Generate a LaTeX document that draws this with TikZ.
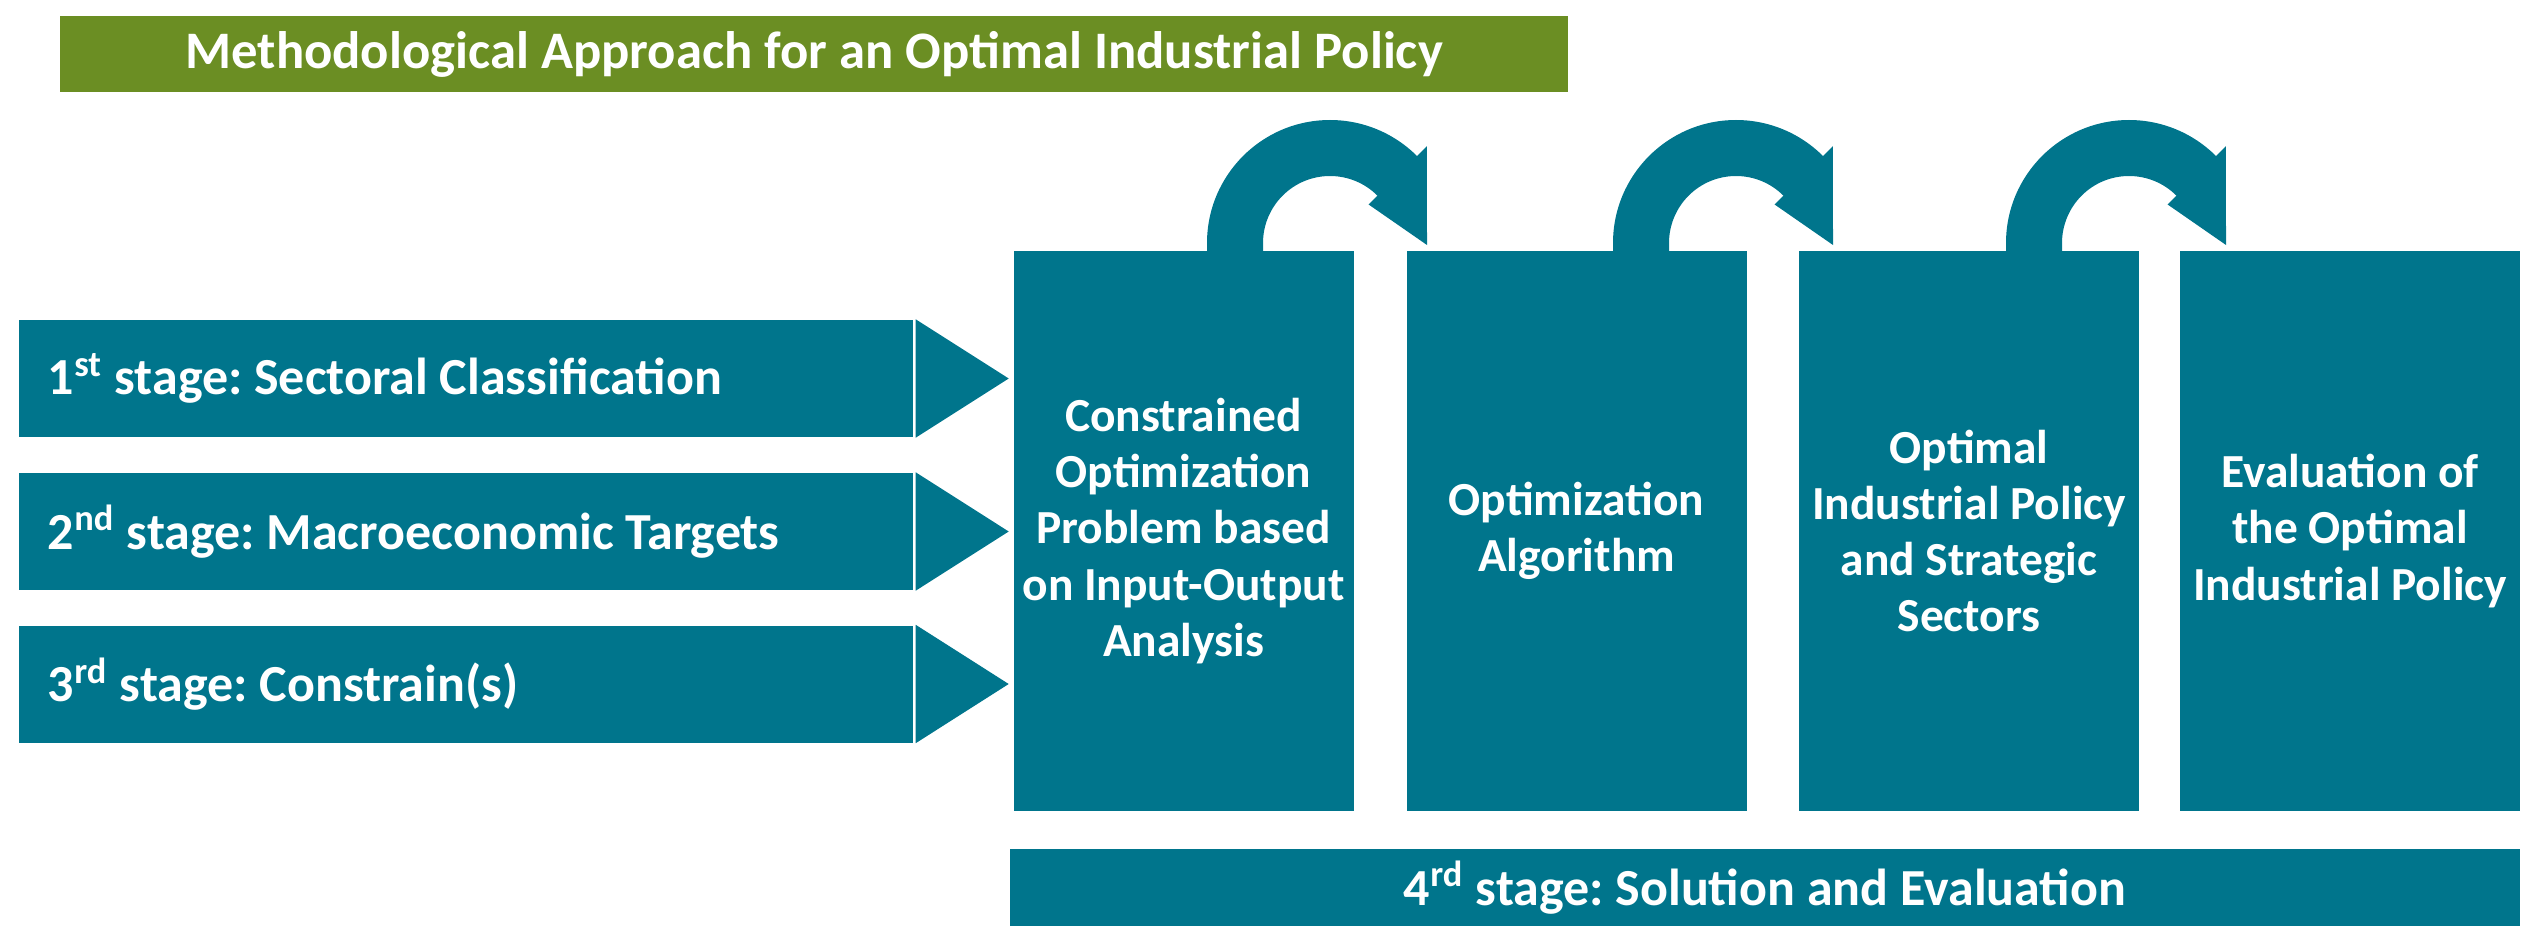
\documentclass[tikz,border=0pt]{standalone}
\usepackage{fontspec}
\setmainfont{Carlito}
\frenchspacing
\definecolor{stageteal}{HTML}{00758C}
\definecolor{titlegreen}{HTML}{6B8E23}
\tikzset{%
    stagebox/.style={%
        fill=stageteal, draw=none, text=white,
        font=\bfseries\fontsize{14.8}{17}\selectfont,
        minimum width=8.94cm, minimum height=1.17cm,
        text width=8.36cm, inner xsep=0.29cm, inner ysep=0pt, align=flush left
    },
    stepblock/.style={%
        fill=stageteal, draw=none, text=white,
        font=\bfseries\fontsize{13.5}{16}\selectfont,
        minimum width=3.40cm, minimum height=5.60cm, inner sep=0pt, align=center
    },
    looparrow/.pic={%
        \fill[stageteal] (-1.23,-0.10) -- (-1.23,0) arc[start angle=180, end angle=45, radius=1.23]
            -- (45:1.37) -- (0.97,-0.02) -- (45:0.545) -- (45:0.67)
            arc[start angle=45, end angle=180, radius=0.67] -- (-0.67,-0.10) -- cycle;
    }
}

\begin{document}
\begin{tikzpicture}
%\draw [help lines] (0,0) grid (25,9);
\useasboundingbox (0,0) rectangle (25.34,9.46);

\node (T) at (8.14,8.92) [fill=titlegreen, text=white, minimum width=15.08cm, minimum height=0.76cm,
    inner sep=0pt, font=\bfseries\fontsize{15}{18}\selectfont] {Methodological Approach for an Optimal Industrial Policy};

\node[stagebox] (S1) at (4.66,5.675) {1\textsuperscript{st} stage: Sectoral Classification};
\node[stagebox] (S2) at (4.66,4.145) {2\textsuperscript{nd} stage: Macroeconomic Targets};
\node[stagebox] (S3) at (4.66,2.62) {3\textsuperscript{rd} stage: Constrain(s)};

\node[stepblock] (P1) at (11.835,4.15) {Constrained\\Optimization\\Problem based\\on Input-Output\\Analysis};
\node[stepblock] (P2) at (15.765,4.15) {Optimization\\Algorithm};
\node[stepblock] (P3) at (19.69,4.15) {Optimal\\Industrial Policy\\and Strategic\\Sectors};
\node[stepblock] (P4) at (23.50,4.15) {Evaluation of\\the Optimal\\Industrial Policy};

\node (B) at (17.65,0.585) [fill=stageteal, text=white, minimum width=15.10cm, minimum height=0.77cm,
    inner sep=0pt, font=\bfseries\fontsize{14.8}{17}\selectfont] {4\textsuperscript{rd} stage: Solution and Evaluation};

% stages to problem
\fill[stageteal] ([xshift=0.02cm]S1.north east) -- ([xshift=0.95cm]S1.east) -- ([xshift=0.02cm]S1.south east) -- cycle;
\fill[stageteal] ([xshift=0.02cm]S2.north east) -- ([xshift=0.95cm]S2.east) -- ([xshift=0.02cm]S2.south east) -- cycle;
\fill[stageteal] ([xshift=0.02cm]S3.north east) -- ([xshift=0.95cm]S3.east) -- ([xshift=0.02cm]S3.south east) -- cycle;

% P1 to P2, P2 to P3, P3 to P4
\pic at (13.30,7.03) {looparrow};
\pic at (17.36,7.03) {looparrow};
\pic at (21.29,7.03) {looparrow};
\end{tikzpicture}
\end{document}
